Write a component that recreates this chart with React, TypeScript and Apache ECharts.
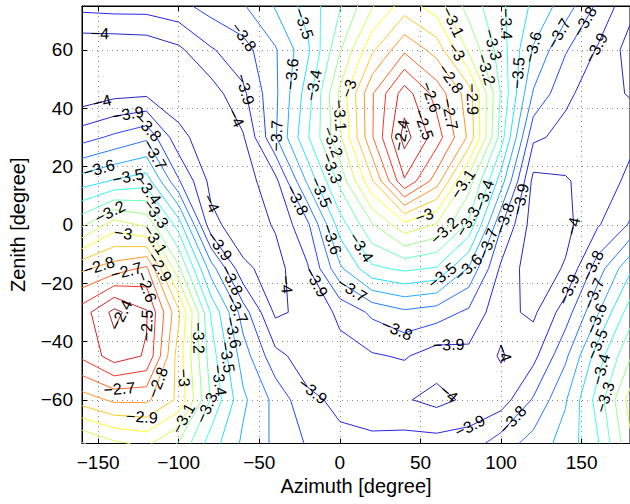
import React, { useEffect, useRef } from "react";
import * as echarts from "echarts";

// ---- data ----
const azimuth = [-160, -140, -120, -100, -80, -60, -40, -20, 0, 20, 40, 60, 80, 100, 120, 140, 160, 180];
const zenith = [75, 60, 45, 30, 15, 0, -15, -30, -45, -60, -75];

const zen75 = [-3.87, -3.86, -3.86, -3.83, -3.76, -3.71, -3.59, -3.46, -3.31, -3.11, -2.95, -3.05, -3.24, -3.38, -3.52, -3.65, -3.82, -3.97];
const zen60 = [-4.08, -4.08, -4.07, -4.02, -3.91, -3.84, -3.71, -3.52, -3.21, -2.92, -2.72, -2.84, -3.12, -3.35, -3.61, -3.79, -3.91, -4.04];
const zen45 = [-4.07, -4.03, -4.02, -4.06, -4.05, -3.92, -3.72, -3.45, -3.08, -2.71, -2.45, -2.64, -2.85, -3.31, -3.71, -3.88, -3.95, -4.01];
const zen30 = [-3.84, -3.78, -3.72, -3.97, -4.06, -4.01, -3.71, -3.41, -3.12, -2.71, -2.36, -2.55, -2.82, -3.35, -3.88, -3.93, -3.96, -3.92];
const zen15 = [-3.55, -3.49, -3.45, -3.79, -4.03, -4.05, -3.93, -3.58, -3.27, -2.91, -2.51, -2.75, -3.15, -3.55, -4.03, -4.01, -3.95, -3.88];
const zen0 = [-3.22, -3.05, -3.12, -3.45, -3.97, -4.06, -3.99, -3.82, -3.45, -3.21, -3.03, -3.11, -3.32, -3.79, -4.05, -4.03, -3.91, -3.79];
const zenM15 = [-2.82, -2.75, -2.68, -3.18, -3.65, -3.98, -4.04, -3.91, -3.62, -3.42, -3.38, -3.41, -3.61, -3.92, -4.06, -3.99, -3.75, -3.52];
const zenM30 = [-2.55, -2.37, -2.49, -2.88, -3.41, -3.75, -4.02, -3.97, -3.88, -3.78, -3.72, -3.75, -3.82, -3.97, -4.02, -3.85, -3.61, -3.35];
const zenM45 = [-2.58, -2.45, -2.51, -2.95, -3.35, -3.65, -3.87, -3.95, -3.93, -3.91, -3.89, -3.95, -3.93, -4.01, -3.93, -3.72, -3.45, -3.21];
const zenM60 = [-2.85, -2.78, -2.78, -2.92, -3.31, -3.58, -3.73, -3.88, -3.92, -3.95, -3.99, -4.03, -3.98, -3.95, -3.79, -3.61, -3.36, -3.06];
const zenM75 = [-3.21, -3.12, -3.08, -3.21, -3.45, -3.62, -3.72, -3.81, -3.88, -3.88, -3.86, -3.86, -3.85, -3.75, -3.66, -3.56, -3.41, -3.12];

const contourLevels = [-4.0, -3.9, -3.8, -3.7, -3.6, -3.5, -3.4, -3.3, -3.2, -3.1, -3.0, -2.9, -2.8, -2.7, -2.6, -2.5, -2.4];
const colorLimits = [-4.08, -2.36];
const xTickValues = [-150, -100, -50, 0, 50, 100, 150];
const yTickValues = [-60, -40, -20, 0, 20, 40, 60];

const FONT = "'Liberation Sans', Arial, Helvetica, sans-serif";
const PLOT = { left: 78, top: 6, width: 553.5, height: 437.5 };
const X_RANGE = [-160, 180];
const Y_RANGE = [-75, 75];

type Pt = [number, number];

function jetColor(v: number): string {
  const t = Math.max(0, Math.min(1, (v - colorLimits[0]) / (colorLimits[1] - colorLimits[0])));
  const cl = (x: number) => Math.max(0, Math.min(1, x));
  const r = cl(Math.min(4 * t - 1.5, -4 * t + 4.5));
  const g = cl(Math.min(4 * t - 0.5, -4 * t + 3.5));
  const b = cl(Math.min(4 * t + 0.5, -4 * t + 2.5));
  const m = (c: number) => Math.round(255 * (c * 0.85 + 0.15));
  return `rgb(${m(r)},${m(g)},${m(b)})`;
}

function marching(xs: number[], ys: number[], z: number[][], level: number): Pt[][] {
  const L = level + 1e-6;
  const nx = xs.length, ny = ys.length;
  const pts = new Map<string, Pt>();
  const segs: [string, string][] = [];
  const ep = (k: string, x1: number, y1: number, v1: number, x2: number, y2: number, v2: number) => {
    if (!pts.has(k)) {
      const t = (L - v1) / (v2 - v1);
      pts.set(k, [x1 + t * (x2 - x1), y1 + t * (y2 - y1)]);
    }
    return k;
  };
  for (let j = 0; j < ny - 1; j++) {
    for (let i = 0; i < nx - 1; i++) {
      const a = z[j][i], b = z[j][i + 1], c = z[j + 1][i + 1], d = z[j + 1][i];
      const idx = (a > L ? 1 : 0) | (b > L ? 2 : 0) | (c > L ? 4 : 0) | (d > L ? 8 : 0);
      if (idx === 0 || idx === 15) continue;
      const B = () => ep(`h${i},${j}`, xs[i], ys[j], a, xs[i + 1], ys[j], b);
      const R = () => ep(`v${i + 1},${j}`, xs[i + 1], ys[j], b, xs[i + 1], ys[j + 1], c);
      const T = () => ep(`h${i},${j + 1}`, xs[i], ys[j + 1], d, xs[i + 1], ys[j + 1], c);
      const Lf = () => ep(`v${i},${j}`, xs[i], ys[j], a, xs[i], ys[j + 1], d);
      const center = (a + b + c + d) / 4 > L;
      switch (idx) {
        case 1: case 14: segs.push([B(), Lf()]); break;
        case 2: case 13: segs.push([B(), R()]); break;
        case 3: case 12: segs.push([Lf(), R()]); break;
        case 4: case 11: segs.push([R(), T()]); break;
        case 6: case 9: segs.push([B(), T()]); break;
        case 7: case 8: segs.push([Lf(), T()]); break;
        case 5:
          if (center) { segs.push([B(), R()]); segs.push([T(), Lf()]); }
          else { segs.push([B(), Lf()]); segs.push([R(), T()]); }
          break;
        case 10:
          if (center) { segs.push([B(), Lf()]); segs.push([R(), T()]); }
          else { segs.push([B(), R()]); segs.push([T(), Lf()]); }
          break;
      }
    }
  }
  const byKey = new Map<string, number[]>();
  segs.forEach((s, n) => s.forEach((k) => {
    const arr = byKey.get(k);
    if (arr) arr.push(n); else byKey.set(k, [n]);
  }));
  const used = new Array(segs.length).fill(false);
  const extend = (chain: string[]) => {
    let cur = chain[chain.length - 1];
    for (;;) {
      const cand = (byKey.get(cur) || []).find((n) => !used[n]);
      if (cand === undefined) break;
      used[cand] = true;
      const s = segs[cand];
      const nxt = s[0] === cur ? s[1] : s[0];
      chain.push(nxt);
      cur = nxt;
    }
  };
  const lines: Pt[][] = [];
  const startOrder: number[] = [];
  segs.forEach((s, n) => { if (s.some((k) => (byKey.get(k) || []).length === 1)) startOrder.push(n); });
  segs.forEach((_, n) => startOrder.push(n));
  for (const n of startOrder) {
    if (used[n]) continue;
    used[n] = true;
    let chain = [segs[n][0], segs[n][1]];
    if ((byKey.get(chain[1]) || []).length === 1) chain = [chain[1], chain[0]];
    extend(chain);
    chain.reverse();
    extend(chain);
    lines.push(chain.map((k) => pts.get(k) as Pt));
  }
  return lines;
}

function fmtLevel(v: number): string {
  return String(Number(v.toFixed(1))).replace("-", "\u2212");
}

// approximate pixel scale, used only to space the labels along each line
const SX = PLOT.width / (X_RANGE[1] - X_RANGE[0]);
const SY = PLOT.height / (Y_RANGE[1] - Y_RANGE[0]);

function labelSpots(line: Pt[], level: number, seed: number, placed: Pt[]): number[][] {
  const cum = [0];
  for (let k = 1; k < line.length; k++) {
    cum.push(cum[k - 1] + Math.hypot((line[k][0] - line[k - 1][0]) * SX, (line[k][1] - line[k - 1][1]) * SY));
  }
  const total = cum[cum.length - 1];
  const out: number[][] = [];
  if (total < 28) return out;
  const closed = line[0][0] === line[line.length - 1][0] && line[0][1] === line[line.length - 1][1];
  const spacing = 175;
  const xMin = X_RANGE[0] + 12 / SX;
  const xMax = X_RANGE[0] + (630 - 20 - PLOT.left) / SX;
  const yMin = Y_RANGE[0] + 8 / SY, yMax = Y_RANGE[1] - 5 / SY;
  let s = closed ? total * 0.3 : Math.min(18 + (seed % 4) * 14, total / 2);
  let tries = 0;
  while (s < total - 10 && tries < 400) {
    tries++;
    let k = 0;
    while (k < cum.length - 2 && cum[k + 1] < s) k++;
    const segLen = cum[k + 1] - cum[k] || 1;
    const t = (s - cum[k]) / segLen;
    const p0 = line[k], p1 = line[k + 1];
    const x = p0[0] + t * (p1[0] - p0[0]);
    const y = p0[1] + t * (p1[1] - p0[1]);
    const px = x * SX, py = y * SY;
    const crowded = placed.some((q) => Math.hypot(q[0] - px, q[1] - py) < 24);
    if (x < xMin || x > xMax || y < yMin || y > yMax || crowded) {
      s += 8;
      continue;
    }
    placed.push([px, py]);
    out.push([x, y, x + (p1[0] - p0[0]), y + (p1[1] - p0[1]), level]);
    if (closed) break;
    s += spacing;
  }
  return out;
}

export default function App() {
  const ref = useRef<HTMLDivElement>(null);
  useEffect(() => {
    if (!ref.current) return;
    const chart = echarts.init(ref.current, undefined, { renderer: "svg" });

    const rows = [zen75, zen60, zen45, zen30, zen15, zen0, zenM15, zenM30, zenM45, zenM60, zenM75];
    const ys = zenith.slice().reverse();
    const z = rows.slice().reverse();

    const series: any[] = [];
    const labels: number[][] = [];
    const placed: Pt[] = [];
    contourLevels.forEach((lv, li) => {
      const lines = marching(azimuth, ys, z, lv);
      const color = jetColor(lv);
      lines.forEach((ln, n) => {
        series.push({
          type: "line",
          data: ln,
          symbol: "none",
          silent: true,
          animation: false,
          clip: true,
          z: 3,
          lineStyle: { color, width: 1 },
          emphasis: { disabled: true },
        });
        labelSpots(ln, lv, li + n, placed).forEach((l) => labels.push(l));
      });
    });

    series.push({
      type: "custom",
      data: labels,
      encode: { x: 0, y: 1 },
      silent: true,
      z: 5,
      clip: false,
      renderItem: (_params: any, api: any) => {
        const p = api.coord([api.value(0), api.value(1)]);
        const q = api.coord([api.value(2), api.value(3)]);
        let ang = Math.atan2(q[1] - p[1], q[0] - p[0]);
        if (ang > Math.PI / 2) ang -= Math.PI;
        if (ang < -Math.PI / 2) ang += Math.PI;
        return {
          type: "text",
          x: p[0],
          y: p[1],
          rotation: -ang,
          style: {
            text: fmtLevel(api.value(4)),
            fill: "#000",
            fontSize: 16,
            fontFamily: FONT,
            align: "center",
            verticalAlign: "middle",
          },
        };
      },
    });

    const tickFmt = (v: number) => String(v).replace("-", "\u2212");

    chart.setOption({
      animation: false,
      grid: { ...PLOT, show: true, borderColor: "#000", borderWidth: 1, backgroundColor: "#fff" },
      xAxis: [
        {
          type: "value",
          min: X_RANGE[0],
          max: X_RANGE[1],
          position: "bottom",
          name: "Azimuth [degree]",
          nameLocation: "middle",
          nameGap: 32,
          nameTextStyle: { fontSize: 20, color: "#000", fontFamily: FONT },
          axisLine: { show: true, onZero: false, lineStyle: { color: "#000", width: 1 } },
          axisTick: { show: true, inside: true, length: 5, customValues: xTickValues, lineStyle: { color: "#000" } },
          axisLabel: { customValues: xTickValues, fontSize: 19, color: "#000", fontFamily: FONT, margin: 9, formatter: tickFmt },
          splitLine: { show: true, lineStyle: { color: "#8a8a8a", width: 1, type: [1, 4] } },
        },
        {
          type: "value",
          min: X_RANGE[0],
          max: X_RANGE[1],
          position: "top",
          axisLine: { show: true, onZero: false, lineStyle: { color: "#000", width: 1 } },
          axisTick: { show: true, inside: true, length: 5, customValues: xTickValues, lineStyle: { color: "#000" } },
          axisLabel: { show: false },
          splitLine: { show: false },
        },
      ],
      yAxis: [
        {
          type: "value",
          min: Y_RANGE[0],
          max: Y_RANGE[1],
          position: "left",
          name: "Zenith [degree]",
          nameLocation: "middle",
          nameGap: 54,
          nameRotate: 90,
          nameTextStyle: { fontSize: 20, color: "#000", fontFamily: FONT },
          axisLine: { show: true, onZero: false, lineStyle: { color: "#000", width: 1 } },
          axisTick: { show: true, inside: true, length: 5, customValues: yTickValues, lineStyle: { color: "#000" } },
          axisLabel: { customValues: yTickValues, fontSize: 19, color: "#000", fontFamily: FONT, margin: 9, formatter: tickFmt },
          splitLine: { show: true, lineStyle: { color: "#8a8a8a", width: 1, type: [1, 4] } },
        },
      ],
      series,
    });
    return () => chart.dispose();
  }, []);
  return <div ref={ref} style={{ position: "fixed", left: 0, top: 0, width: 630, height: 504, background: "#fff" }} />;
}
